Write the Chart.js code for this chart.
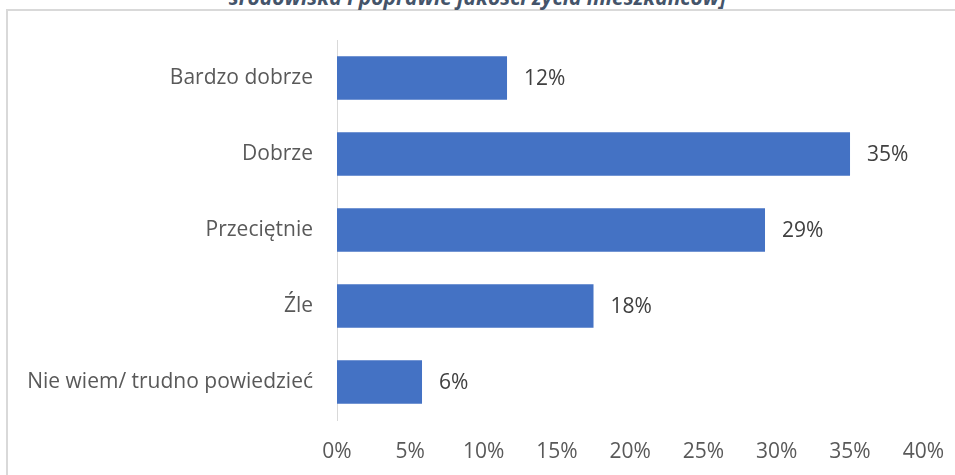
<!DOCTYPE html>
<html>
<head>
<meta charset="utf-8">
<script src="https://cdn.jsdelivr.net/npm/chart.js@4.4.1/dist/chart.umd.min.js"></script>
<style>
  html, body { margin: 0; padding: 0; background: #fff; overflow: hidden; }
  #wrap { position: relative; width: 955px; height: 475px; }
  #frame { position: absolute; left: 6px; top: 9px; width: 960px; height: 480px;
           border-left: 2px solid #d9d9d9; border-top: 2px solid #d9d9d9; }
  #title { position: absolute; left: 0; width: 955px; top: -17px; text-align: center;
           font: italic bold 21px "Open Sans", sans-serif; color: #44546A; white-space: nowrap; }
  canvas { position: absolute; left: 0; top: 0; }
</style>
</head>
<body>
<div id="wrap">
  <div id="frame"></div>
  <div id="title">środowiska i poprawie jakości życia mieszkańców]</div>
  <canvas id="chart" width="955" height="475"></canvas>
</div>
<script>
// dane
const categories = ['Bardzo dobrze', 'Dobrze', 'Przeciętnie', 'Źle', 'Nie wiem/ trudno powiedzieć'];
const values = [11.6, 35.0, 29.2, 17.5, 5.8];
const xTicks = [0, 5, 10, 15, 20, 25, 30, 35, 40];

const fontFamily = '"Open Sans", sans-serif';

// etykiety danych na końcu słupków
const barLabels = {
    id: 'barLabels',
    afterDatasetsDraw(chart) {
        const ctx = chart.ctx;
        const meta = chart.getDatasetMeta(0);
        ctx.save();
        ctx.font = '21px ' + fontFamily;
        ctx.fillStyle = '#404040';
        ctx.textAlign = 'left';
        ctx.textBaseline = 'middle';
        meta.data.forEach((bar, i) => {
            ctx.fillText(Math.round(values[i]) + '%', bar.x + 17, bar.y + 1);
        });
        ctx.restore();
    }
};

new Chart(document.getElementById('chart'), {
    type: 'bar',
    data: {
        labels: categories,
        datasets: [{
            data: values,
            backgroundColor: '#4472C4',
            categoryPercentage: 1,
            barPercentage: 0.57
        }]
    },
    options: {
        indexAxis: 'y',
        responsive: false,
        animation: false,
        layout: { padding: { left: 0, right: 30, top: 40, bottom: 0 } },
        plugins: {
            legend: { display: false },
            tooltip: { enabled: false }
        },
        scales: {
            x: {
                min: 0,
                max: 40,
                afterBuildTicks: (s) => { s.ticks = xTicks.map(v => ({ value: v })); },
                afterFit: (s) => { s.height = 55; },
                grid: { display: false },
                border: { display: false },
                ticks: {
                    padding: 11,
                    color: '#595959',
                    font: { family: fontFamily, size: 21 },
                    callback: (v) => v + '%'
                }
            },
            y: {
                afterFit: (s) => { s.width = 337; },
                grid: { display: false, drawTicks: false },
                border: { display: true, color: '#d9d9d9', width: 1 },
                ticks: {
                    padding: 24,
                    color: '#595959',
                    font: { family: fontFamily, size: 21 }
                }
            }
        }
    },
    plugins: [barLabels]
});
</script>
</body>
</html>
